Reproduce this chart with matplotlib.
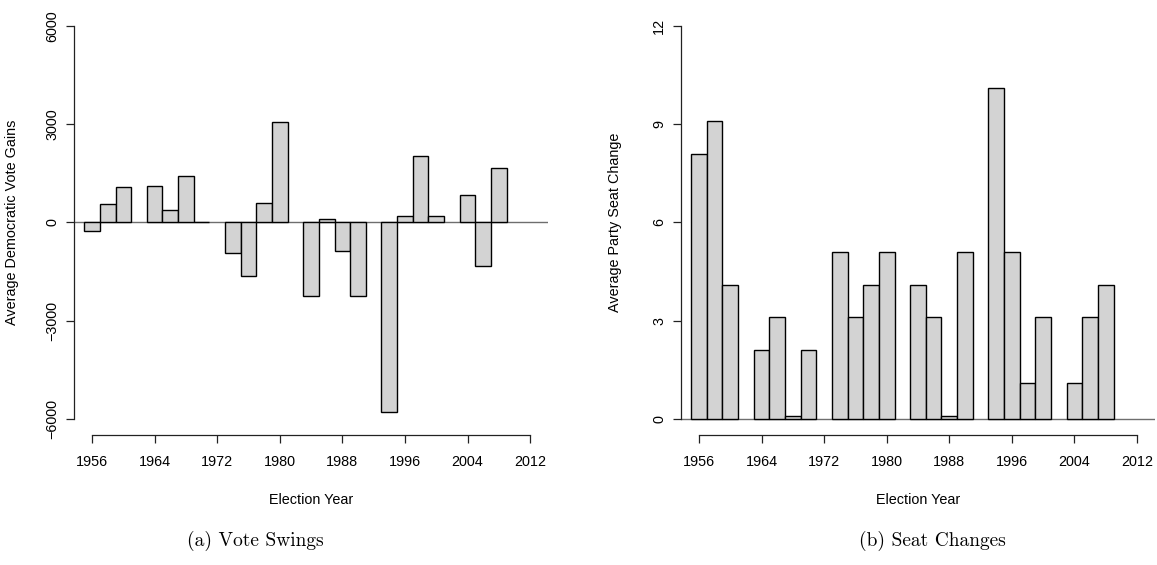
import numpy as np
import matplotlib
matplotlib.use('Agg')
import matplotlib.pyplot as plt

# election years (redistricting years 1962/72/82/92/2002 left out)
years = [1956, 1958, 1960, 1964, 1966, 1968, 1970, 1974, 1976, 1978, 1980,
         1984, 1986, 1988, 1990, 1994, 1996, 1998, 2000, 2004, 2006, 2008]
vote_gains = [-250, 580, 1080, 1120, 390, 1410, 15, -935, -1625, 590, 3075,
              -2230, 100, -885, -2250, -5790, 190, 2045, 190, 835, -1315, 1650]
seat_change = [8.1, 9.1, 4.1, 2.1, 3.1, 0.1, 2.1, 5.1, 3.1, 4.1, 5.1,
               4.1, 3.1, 0.1, 5.1, 10.1, 5.1, 1.1, 3.1, 1.1, 3.1, 4.1]
year_ticks = [1956, 1964, 1972, 1980, 1988, 1996, 2004, 2012]
vote_ticks = [-6000, -3000, 0, 3000, 6000]
seat_ticks = [0, 3, 6, 9, 12]

plt.rcParams['font.family'] = ['Liberation Sans', 'DejaVu Sans']
fs = 10.4


def base_style(ax, yticks, ylabel, ylabel_x):
    # R base graphics look: detached axes only spanning the tick range
    span = yticks[-1] - yticks[0]
    ax.set_xlim(1953.7, 2014.3)
    ax.set_ylim(yticks[0] - 0.04 * span, yticks[-1] + 0.04 * span)
    for s in ['top', 'right']:
        ax.spines[s].set_visible(False)
    ax.spines['left'].set_bounds(yticks[0], yticks[-1])
    ax.spines['bottom'].set_bounds(year_ticks[0], year_ticks[-1])
    for s in ['left', 'bottom']:
        ax.spines[s].set_color('#222222')
        ax.spines[s].set_linewidth(0.9)
    ax.set_xticks(year_ticks)
    ax.set_yticks(yticks)
    ax.tick_params(axis='x', length=5.8, width=0.9, pad=8.5, labelsize=fs, color='#222222')
    ax.tick_params(axis='y', length=5.8, width=0.9, pad=5, labelsize=fs, color='#222222')
    for lab in ax.get_yticklabels():
        lab.set_rotation(90)
        lab.set_va('center')
    ax.set_xlabel('Election Year', fontsize=fs)
    ax.set_ylabel(ylabel, fontsize=fs)
    ax.xaxis.set_label_coords(0.5, -0.137)
    ax.yaxis.set_label_coords(ylabel_x, 0.5)
    ax.axhline(0, color='#6e6e6e', lw=1.0, zorder=1)


fig = plt.figure(figsize=(11.57, 5.65), dpi=100)
ax1 = fig.add_axes([0.0640, 0.2306, 0.4097, 0.7512])
ax2 = fig.add_axes([0.5886, 0.2306, 0.4097, 0.7512])

ax1.bar(years, vote_gains, width=2, color='#d3d3d3', edgecolor='black', lw=1.0, zorder=2)
base_style(ax1, vote_ticks, 'Average Democratic Vote Gains', -0.116)

ax2.bar(years, seat_change, width=2, color='#d3d3d3', edgecolor='black', lw=1.0, zorder=2)
base_style(ax2, seat_ticks, 'Average Party Seat Change', -0.1245)

fig.text(0.2204, 0.042, '(a) Vote Swings', family='cmr10', fontsize=14, ha='center', va='center')
fig.text(0.8055, 0.042, '(b) Seat Changes', family='cmr10', fontsize=14, ha='center', va='center')

fig.savefig('out.png', dpi=100)
